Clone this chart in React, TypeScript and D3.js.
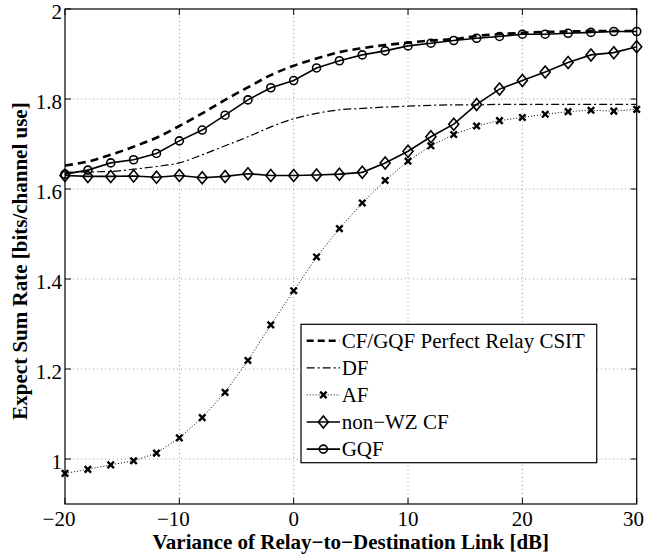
import React from "react";
import * as d3 from "d3";

const xValues = [-20,-18,-16,-14,-12,-10,-8,-6,-4,-2,0,2,4,6,8,10,12,14,16,18,20,22,24,26,28,30];

const perfectCSIT = [1.652,1.661,1.676,1.694,1.714,1.740,1.768,1.798,1.826,1.853,1.874,1.890,1.904,1.913,1.920,1.925,1.930,1.933,1.940,1.944,1.947,1.949,1.950,1.951,1.951,1.951];
const dfRate = [1.637,1.638,1.639,1.644,1.650,1.658,1.676,1.696,1.716,1.738,1.756,1.768,1.776,1.779,1.782,1.784,1.786,1.787,1.787,1.788,1.788,1.788,1.788,1.788,1.788,1.788];
const afRate = [0.968,0.977,0.987,0.996,1.013,1.047,1.092,1.148,1.219,1.298,1.374,1.449,1.512,1.569,1.619,1.662,1.696,1.721,1.740,1.752,1.759,1.766,1.772,1.775,1.773,1.777];
const nonWzCf = [1.630,1.628,1.628,1.629,1.626,1.630,1.625,1.628,1.634,1.630,1.630,1.631,1.633,1.637,1.658,1.684,1.716,1.744,1.788,1.822,1.841,1.860,1.881,1.898,1.903,1.916];
const gqfRate = [1.633,1.642,1.658,1.665,1.679,1.707,1.731,1.764,1.798,1.825,1.841,1.869,1.885,1.898,1.907,1.918,1.924,1.930,1.935,1.939,1.944,1.944,1.946,1.948,1.950,1.950];

const xTicks = [-20,-10,0,10,20,30];
const yTicks = [1,1.2,1.4,1.6,1.8,2];
const legendLabels = ["CF/GQF Perfect Relay CSIT","DF","AF","non\u2212WZ CF","GQF"];
const xLabel = "Variance of Relay\u2212to\u2212Destination Link [dB]";
const yLabel = "Expect Sum Rate [bits/channel use]";

const W = 645, H = 557;
const L = 65, R = 636.7, T = 9, B = 504;
const FONT = "'Liberation Serif', 'Times New Roman', serif";

function fmtX(v: number) {
  return v < 0 ? "\u2212" + Math.abs(v) : String(v);
}

function Diamond({ cx, cy }: { cx: number; cy: number }) {
  const w = 5, h = 6;
  return <path d={`M${cx},${cy - h}L${cx + w},${cy}L${cx},${cy + h}L${cx - w},${cy}Z`} fill="none" stroke="#000" strokeWidth={1.6} />;
}
function Circle({ cx, cy }: { cx: number; cy: number }) {
  return <circle cx={cx} cy={cy} r={4} fill="none" stroke="#000" strokeWidth={1.6} />;
}
function Cross({ cx, cy }: { cx: number; cy: number }) {
  const s = 3.2;
  return <path d={`M${cx - s},${cy - s}L${cx + s},${cy + s}M${cx - s},${cy + s}L${cx + s},${cy - s}`} stroke="#000" strokeWidth={2.4} />;
}

export default function App() {
  const x = d3.scaleLinear().domain([-20, 30]).range([L, R]);
  const y = d3.scaleLinear().domain([0.9, 2]).range([B, T]);
  const line = d3.line<number>().x((_, i) => x(xValues[i])).y((d) => y(d));
  const smooth = d3.line<number>().x((_, i) => x(xValues[i])).y((d) => y(d)).curve(d3.curveMonotoneX);

  const legX0 = 301, legX1 = 596.7, legY0 = 324.3, legY1 = 462.7;
  const rowY = (i: number) => 340.7 + i * 27.1;
  const sx0 = 306.7, sx1 = 340, sxm = (sx0 + sx1) / 2;

  return (
    <svg width={W} height={H} style={{ position: "absolute", left: 0, top: 0, background: "#fff" }} fontFamily={FONT}>
      <rect x={0} y={0} width={W} height={H} fill="#fff" />
      {/* grid */}
      {xTicks.filter((t) => t > -20 && t < 30).map((t) => (
        <line key={"gx" + t} x1={x(t)} x2={x(t)} y1={T} y2={B} stroke="#999" strokeWidth={1} strokeDasharray="1,3" />
      ))}
      {yTicks.filter((t) => t < 2).map((t) => (
        <line key={"gy" + t} x1={L} x2={R} y1={y(t)} y2={y(t)} stroke="#999" strokeWidth={1} strokeDasharray="1,3" />
      ))}
      {/* ticks */}
      {xTicks.map((t) => (
        <g key={"tx" + t}>
          <line x1={x(t)} x2={x(t)} y1={B} y2={B - 6} stroke="#000" />
          <line x1={x(t)} x2={x(t)} y1={T} y2={T + 6} stroke="#000" />
          {t === 30 ? (
            <text x={644} y={526} fontSize={21} textAnchor="end">{fmtX(t)}</text>
          ) : (
            <text x={x(t) + (t < 0 ? -6 : 0)} y={526} fontSize={21} textAnchor="middle">{fmtX(t)}</text>
          )}
        </g>
      ))}
      {yTicks.map((t) => (
        <g key={"ty" + t}>
          <line x1={L} x2={L + 6} y1={y(t)} y2={y(t)} stroke="#000" />
          <line x1={R} x2={R - 6} y1={y(t)} y2={y(t)} stroke="#000" />
          <text x={62} y={y(t) + 9.5} fontSize={21} textAnchor="end">{String(t)}</text>
        </g>
      ))}
      {/* series */}
      <path d={smooth(dfRate) || ""} fill="none" stroke="#000" strokeWidth={1.2} strokeDasharray="8,3,2,3" />
      <path d={smooth(perfectCSIT) || ""} fill="none" stroke="#000" strokeWidth={2.6} strokeDasharray="8,5" />
      <path d={line(afRate) || ""} fill="none" stroke="#000" strokeWidth={1} strokeDasharray="1,2" />
      {afRate.map((v, i) => <Cross key={"af" + i} cx={x(xValues[i])} cy={y(v)} />)}
      <path d={line(nonWzCf) || ""} fill="none" stroke="#000" strokeWidth={1.6} />
      {nonWzCf.map((v, i) => <Diamond key={"nw" + i} cx={x(xValues[i])} cy={y(v)} />)}
      <path d={line(gqfRate) || ""} fill="none" stroke="#000" strokeWidth={1.6} />
      {gqfRate.map((v, i) => <Circle key={"gq" + i} cx={x(xValues[i])} cy={y(v)} />)}
      {/* frame */}
      <rect x={L} y={T} width={R - L} height={B - T} fill="none" stroke="#000" strokeWidth={1.2} />
      {/* legend */}
      <rect x={legX0} y={legY0} width={legX1 - legX0} height={legY1 - legY0} fill="#fff" stroke="#000" strokeWidth={1.2} />
      <line x1={sx0} x2={sx1} y1={rowY(0)} y2={rowY(0)} stroke="#000" strokeWidth={2.6} strokeDasharray="7,4" />
      <line x1={sx0} x2={sx1} y1={rowY(1)} y2={rowY(1)} stroke="#000" strokeWidth={1.2} strokeDasharray="8,3,2,3" />
      <line x1={sx0} x2={sx1} y1={rowY(2)} y2={rowY(2)} stroke="#000" strokeWidth={1} strokeDasharray="1,2" />
      <Cross cx={sxm} cy={rowY(2)} />
      <line x1={sx0} x2={sx1} y1={rowY(3)} y2={rowY(3)} stroke="#000" strokeWidth={1.6} />
      <Diamond cx={sxm} cy={rowY(3)} />
      <line x1={sx0} x2={sx1} y1={rowY(4)} y2={rowY(4)} stroke="#000" strokeWidth={1.6} />
      <Circle cx={sxm} cy={rowY(4)} />
      {legendLabels.map((s, i) => (
        <text key={"lg" + i} x={341.7} y={rowY(i) + 7} fontSize={21}>{s}</text>
      ))}
      {/* axis labels */}
      <text x={(L + R) / 2} y={549} fontSize={21} fontWeight="bold" textAnchor="middle">{xLabel}</text>
      <text transform={`translate(27,261) rotate(-90)`} fontSize={21} fontWeight="bold" textAnchor="middle">{yLabel}</text>
    </svg>
  );
}
